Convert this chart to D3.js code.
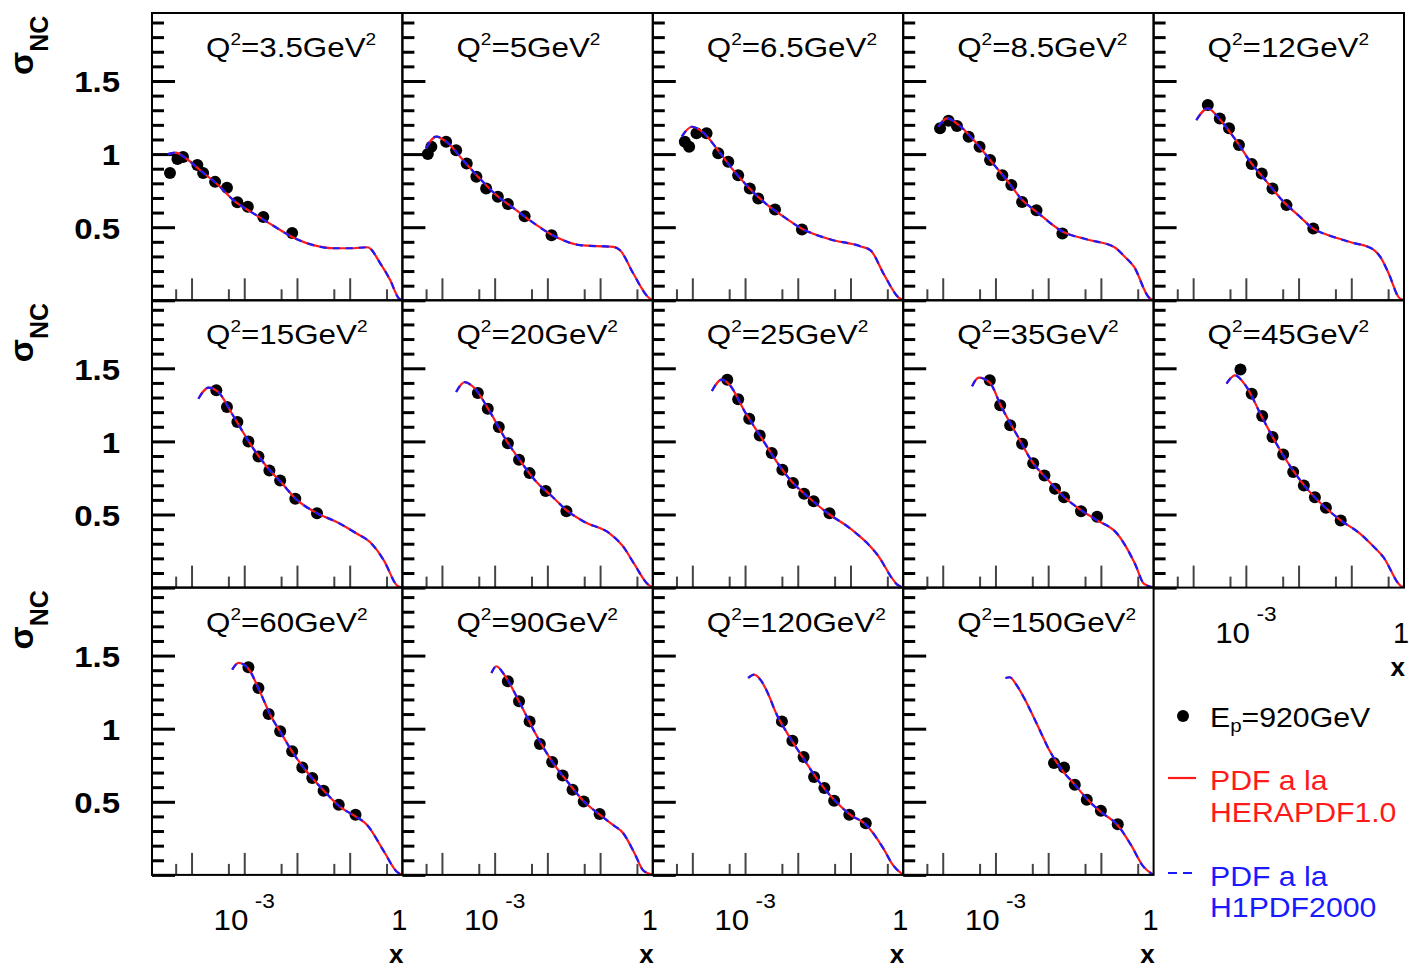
<!DOCTYPE html>
<html><head><meta charset="utf-8">
<script src="https://cdn.jsdelivr.net/npm/d3@7"></script>
<style>
body{margin:0;background:#fff}
svg{display:block}
text{font-family:"Liberation Sans",Arial,Helvetica,sans-serif}
</style>
</head><body>
<svg id="c" width="1409" height="969"></svg>
<script>
// ---------------- data ----------------
const q2Values = ["3.5","5","6.5","8.5","12","15","20","25","35","45","60","90","120","150"];

const dataX = [
  [3.9e-5,5.4e-5,6.9e-5,1.29e-4,1.66e-4,2.8e-4,4.7e-4,7.4e-4,1.17e-3,2.3e-3,8.1e-3],
  [5.4e-5,6.3e-5,1.2e-4,1.86e-4,2.95e-4,4.5e-4,6.9e-4,1.15e-3,1.78e-3,3.7e-3,1.2e-2],
  [7.2e-5,8.7e-5,1.2e-4,1.86e-4,3.1e-4,4.8e-4,7.4e-4,1.23e-3,1.78e-3,3.7e-3,1.2e-2],
  [8.9e-5,1.29e-4,1.86e-4,3.1e-4,5.0e-4,7.9e-4,1.35e-3,2.0e-3,3.2e-3,6.0e-3,1.86e-2],
  [1.9e-4,3.2e-4,4.8e-4,7.4e-4,1.29e-3,2.0e-3,3.2e-3,5.9e-3,1.9e-2],
  [2.95e-4,4.7e-4,7.4e-4,1.2e-3,1.86e-3,3.0e-3,4.8e-3,9.3e-3,2.4e-2],
  [4.8e-4,7.4e-4,1.2e-3,1.78e-3,2.9e-3,4.6e-3,9.3e-3,2.3e-2],
  [4.6e-4,7.4e-4,1.2e-3,1.9e-3,3.2e-3,5.1e-3,8.1e-3,1.32e-2,2.0e-2,4.0e-2],
  [7.8e-4,1.23e-3,1.9e-3,3.2e-3,5.2e-3,8.5e-3,1.35e-2,2.0e-2,4.2e-2,8.5e-2],
  [7.9e-4,1.29e-3,2.04e-3,3.2e-3,5.1e-3,7.9e-3,1.26e-2,2.04e-2,3.3e-2,6.3e-2],
  [1.2e-3,1.86e-3,2.9e-3,4.8e-3,8.1e-3,1.26e-2,1.95e-2,3.2e-2,6.2e-2,0.129],
  [1.78e-3,2.9e-3,4.6e-3,7.2e-3,1.23e-2,1.95e-2,3.0e-2,4.9e-2,9.8e-2],
  [5.0e-3,7.9e-3,1.29e-2,2.04e-2,3.2e-2,4.9e-2,9.5e-2,0.195],
  [1.29e-2,2.0e-2,3.2e-2,5.4e-2,0.1,0.209]
];
const dataY = [
  [0.87,0.966,0.98,0.925,0.87,0.81,0.77,0.67,0.64,0.57,0.46],
  [1.0,1.05,1.084,1.027,0.936,0.845,0.765,0.708,0.658,0.575,0.445],
  [1.084,1.05,1.142,1.142,1.005,0.947,0.856,0.765,0.697,0.621,0.484],
  [1.176,1.228,1.192,1.119,1.05,0.959,0.856,0.788,0.673,0.616,0.457],
  [1.336,1.244,1.176,1.062,0.932,0.868,0.765,0.651,0.491],
  [1.349,1.235,1.132,1.0,0.897,0.801,0.733,0.607,0.509],
  [1.331,1.224,1.098,0.988,0.875,0.783,0.66,0.523],
  [1.422,1.288,1.155,1.041,0.92,0.806,0.715,0.642,0.591,0.509],
  [1.418,1.247,1.11,0.984,0.851,0.767,0.676,0.618,0.523,0.484],
  [1.491,1.326,1.173,1.03,0.911,0.79,0.699,0.618,0.546,0.459],
  [1.42,1.279,1.1,0.982,0.845,0.735,0.662,0.575,0.479,0.411],
  [1.324,1.187,1.05,0.895,0.772,0.68,0.582,0.502,0.416],
  [1.05,0.918,0.806,0.669,0.594,0.507,0.411,0.354],
  [0.765,0.735,0.616,0.514,0.438,0.347]
];

const curveX = [
  [3.55e-5,5.0e-5,7.9e-5,1.45e-4,3.16e-4,6.2e-4,1.41e-3,2.75e-3,8.5e-3,2.04e-2,4.9e-2,0.102,0.219,0.38,0.589,0.851,1],
  [5.0e-5,7.8e-5,1.26e-4,2.5e-4,5.0e-4,1.07e-3,2.5e-3,4.6e-3,1.26e-2,4.2e-2,0.178,0.24,0.427,0.81,1],
  [6.3e-5,9.8e-5,1.58e-4,3.16e-4,6.3e-4,1.26e-3,2.5e-3,5.0e-3,1.2e-2,4.2e-2,0.153,0.24,0.427,0.81,1],
  [8.3e-5,1.2e-4,2.0e-4,4.0e-4,7.9e-4,1.58e-3,3.16e-3,6.3e-3,1.86e-2,5.5e-2,0.178,0.28,0.427,0.81,1],
  [1.15e-4,1.9e-4,3.16e-4,6.3e-4,1.26e-3,2.5e-3,5.0e-3,1.0e-2,1.9e-2,3.7e-2,6.6e-2,0.11,0.195,0.263,0.355,0.513,0.794,1],
  [1.35e-4,2.1e-4,3.16e-4,6.3e-4,1.26e-3,2.5e-3,5.0e-3,1.0e-2,2.4e-2,5.8e-2,0.138,0.245,0.447,0.794,1],
  [1.86e-4,2.7e-4,4.0e-4,7.9e-4,1.58e-3,3.16e-3,6.3e-3,1.26e-2,2.3e-2,5.0e-2,0.155,0.275,0.447,0.794,1],
  [2.35e-4,3.6e-4,5.0e-4,1.0e-3,2.0e-3,4.0e-3,7.9e-3,1.58e-2,4.0e-2,7.9e-2,0.132,0.2,0.316,0.813,1],
  [3.6e-4,4.8e-4,7.9e-4,1.26e-3,2.5e-3,5.0e-3,1.0e-2,2.0e-2,4.2e-2,8.5e-2,0.204,0.316,0.447,0.66,1],
  [4.3e-4,6.2e-4,1.0e-3,2.0e-3,4.0e-3,7.9e-3,1.58e-2,3.16e-2,6.3e-2,0.148,0.25,0.407,0.85,1],
  [5.9e-4,7.8e-4,1.2e-3,2.0e-3,3.16e-3,5.0e-3,7.9e-3,1.58e-2,3.16e-2,6.3e-2,0.129,0.214,0.447,0.794,1],
  [8.7e-4,1.07e-3,1.58e-3,3.16e-3,6.3e-3,1.26e-2,2.5e-2,5.0e-2,0.1,0.178,0.275,0.447,0.66,1],
  [1.15e-3,1.48e-3,2.0e-3,2.6e-3,4.0e-3,6.3e-3,1.26e-2,2.5e-2,5.0e-2,0.1,0.195,0.417,0.63,1],
  [1.55e-3,1.86e-3,2.5e-3,3.5e-3,6.2e-3,1.1e-2,2.0e-2,3.16e-2,5.4e-2,0.1,0.209,0.372,0.63,1]
];
const curveY = [
  [1.0,1.01,0.97,0.89,0.79,0.685,0.6,0.535,0.43,0.377,0.356,0.356,0.363,0.253,0.137,0.014,0],
  [1.04,1.12,1.08,0.96,0.84,0.72,0.62,0.548,0.445,0.377,0.365,0.342,0.183,0.023,0],
  [1.12,1.187,1.15,1.02,0.88,0.76,0.66,0.58,0.49,0.416,0.37,0.342,0.18,0.02,0],
  [1.187,1.244,1.2,1.09,0.96,0.83,0.69,0.6,0.47,0.416,0.365,0.3,0.228,0.02,0],
  [1.233,1.313,1.24,1.1,0.94,0.81,0.68,0.58,0.49,0.445,0.416,0.392,0.37,0.347,0.297,0.183,0.02,0],
  [1.292,1.368,1.34,1.17,0.99,0.84,0.72,0.6,0.509,0.447,0.368,0.31,0.185,0.014,0],
  [1.338,1.406,1.37,1.21,1.02,0.86,0.72,0.62,0.53,0.45,0.368,0.28,0.16,0.025,0],
  [1.345,1.422,1.39,1.2,1.03,0.86,0.72,0.62,0.5,0.43,0.368,0.31,0.23,0.014,0],
  [1.377,1.436,1.40,1.245,1.05,0.86,0.735,0.62,0.53,0.46,0.368,0.265,0.16,0.025,0],
  [1.395,1.452,1.38,1.17,0.97,0.8,0.66,0.55,0.46,0.368,0.29,0.208,0.014,0],
  [1.404,1.45,1.41,1.25,1.09,0.97,0.85,0.7,0.58,0.47,0.4,0.342,0.16,0.02,0],
  [1.381,1.427,1.36,1.16,0.95,0.77,0.63,0.5,0.41,0.34,0.285,0.15,0.03,0],
  [1.347,1.37,1.33,1.256,1.096,0.97,0.8,0.64,0.51,0.41,0.345,0.183,0.07,0],
  [1.347,1.352,1.3,1.21,1.027,0.84,0.7,0.62,0.52,0.43,0.34,0.205,0.06,0]
];

const yMajorTicks = [0, 0.5, 1, 1.5];
const yMinorTicks = [0.1,0.2,0.3,0.4,0.6,0.7,0.8,0.9,1.1,1.2,1.3,1.4,1.6,1.7,1.8,1.9];
const yTickLabels = ["0.5","1","1.5"];
const yLabelTicks = [0.5, 1, 1.5];
const xMajorTicks = [1e-4, 1e-3, 1e-2, 1e-1];
const xMinorTicks = [5e-5, 5e-4, 5e-3, 5e-2, 5e-1];
const legendLabels = ["E", "p", "=920GeV", "PDF a la", "HERAPDF1.0", "PDF a la", "H1PDF2000"];

// ---------------- layout ----------------
const svg = d3.select("#c");
const L0 = 152, T0 = 13, CW = 250.4, CH = 287.3;
const xDomain = [Math.pow(10, -4.75), 1];
const yDomain = [0, 1.965];
const RED = "#ff1a1a", BLUE = "#1a1aff";

const defs = svg.append("defs");

q2Values.forEach((q, i) => {
  const r = Math.floor(i / 5), c = i % 5;
  const x0 = L0 + c * CW, y0 = T0 + r * CH;
  const xs = d3.scaleLog().domain(xDomain).range([x0, x0 + CW]);
  const ys = d3.scaleLinear().domain(yDomain).range([y0 + CH, y0]);
  const g = svg.append("g");

  defs.append("clipPath").attr("id", "clip" + i)
    .append("rect").attr("x", x0).attr("y", y0).attr("width", CW).attr("height", CH);

  // y ticks (inside, left side)
  const yMin = g.append("g").attr("transform", `translate(${x0},0)`)
    .call(d3.axisRight(ys).tickValues(yMinorTicks).tickSize(12).tickFormat(""));
  const yMaj = g.append("g").attr("transform", `translate(${x0},0)`)
    .call(d3.axisRight(ys).tickValues(yMajorTicks).tickSize(23).tickFormat(""));
  [yMin, yMaj].forEach(a => {
    a.select(".domain").remove();
    a.selectAll("line").attr("stroke", "#000").attr("stroke-width", 3);
  });

  // x ticks (inside, bottom)
  const xMin = g.append("g").attr("transform", `translate(0,${y0 + CH})`)
    .call(d3.axisTop(xs).tickValues(xMinorTicks).tickSize(11).tickFormat(""));
  const xMaj = g.append("g").attr("transform", `translate(0,${y0 + CH})`)
    .call(d3.axisTop(xs).tickValues(xMajorTicks).tickSize(22).tickFormat(""));
  [xMin, xMaj].forEach(a => {
    a.select(".domain").remove();
    a.selectAll("line").attr("stroke", "#444").attr("stroke-width", 2);
  });

  // data points
  const pts = dataX[i].map((x, k) => [x, dataY[i][k]]);
  g.append("g").selectAll("circle").data(pts).join("circle")
    .attr("cx", d => xs(d[0])).attr("cy", d => ys(d[1])).attr("r", 6).attr("fill", "#000");

  // curves
  const cpts = curveX[i].map((x, k) => [x, curveY[i][k]]);
  const line = d3.line().x(d => xs(d[0])).y(d => ys(d[1])).curve(d3.curveMonotoneX);
  const cg = g.append("g").attr("clip-path", `url(#clip${i})`);
  cg.append("path").attr("d", line(cpts)).attr("fill", "none").attr("stroke", RED).attr("stroke-width", 2.2);
  cg.append("path").attr("d", line(cpts)).attr("fill", "none").attr("stroke", BLUE).attr("stroke-width", 2.2)
    .attr("stroke-dasharray", "7,6");

  // frame
  g.append("rect").attr("x", x0).attr("y", y0).attr("width", CW).attr("height", CH)
    .attr("fill", "none").attr("stroke", "#000").attr("stroke-width", 2);

  // Q2 label
  const t = g.append("text").attr("transform", `translate(${x0 + 54},${y0 + 44}) scale(1.12,1)`)
    .attr("font-size", 28).attr("fill", "#000");
  t.append("tspan").text("Q");
  t.append("tspan").attr("dy", -12).attr("font-size", 17).text("2");
  t.append("tspan").attr("dy", 12).text("=" + q + "GeV");
  t.append("tspan").attr("dy", -12).attr("font-size", 17).text("2");

  // y tick labels, first column
  if (c === 0) {
    const ya = g.append("g").attr("transform", `translate(${x0},0)`)
      .call(d3.axisLeft(ys).tickValues(yLabelTicks).tickSize(0).tickPadding(29)
        .tickFormat((d, k) => yTickLabels[k]));
    ya.select(".domain").remove();
    ya.selectAll("text").attr("font-size", 30).attr("font-weight", "bold")
      .attr("font-family", "Liberation Sans, Arial, sans-serif").attr("fill", "#000")
      .attr("dy", "0.36em").attr("transform", "scale(1.1,1)");

    const s = svg.append("text").attr("transform", `translate(33,${y0 + 62}) rotate(-90)`)
      .attr("font-size", 34).attr("font-weight", "bold").attr("fill", "#000");
    s.append("tspan").text("σ");
    s.append("tspan").attr("dy", 15).attr("font-size", 25).text("NC");
  }

  // x axis labels below bottom panels
  if (r === 2 || (r === 1 && c === 4)) {
    const yb = y0 + CH;
    const lt = svg.append("text").attr("transform", `translate(${xs(1e-3)},${yb + 55}) scale(1.08,1)`)
      .attr("text-anchor", "middle").attr("font-size", 29).attr("fill", "#000");
    lt.append("tspan").text("10");
    lt.append("tspan").attr("dx", 6).attr("dy", -22).attr("font-size", 21).text("-3");
    svg.append("text").attr("x", xs(1) - 3).attr("y", yb + 55)
      .attr("text-anchor", "middle").attr("font-size", 29).attr("fill", "#000").text("1");
    svg.append("text").attr("x", xs(1) + 1).attr("y", yb + 88)
      .attr("text-anchor", "end").attr("font-size", 26).attr("font-weight", "bold").attr("fill", "#000").text("x");
  }
});

// ---------------- legend ----------------
const lg = svg.append("g");
lg.append("circle").attr("cx", 1183).attr("cy", 716).attr("r", 6).attr("fill", "#000");
const e = lg.append("text").attr("transform", "translate(1210,727) scale(1.08,1)").attr("font-size", 28).attr("fill", "#000");
e.append("tspan").text(legendLabels[0]);
e.append("tspan").attr("dy", 5).attr("font-size", 19).text(legendLabels[1]);
e.append("tspan").attr("dy", -5).text(legendLabels[2]);

lg.append("line").attr("x1", 1168).attr("x2", 1196).attr("y1", 778).attr("y2", 778)
  .attr("stroke", RED).attr("stroke-width", 2.2);
lg.append("text").attr("transform", "translate(1210,790) scale(1.08,1)").attr("font-size", 28).attr("fill", RED).text(legendLabels[3]);
lg.append("text").attr("transform", "translate(1210,822) scale(1.08,1)").attr("font-size", 28).attr("fill", RED).text(legendLabels[4]);

lg.append("line").attr("x1", 1168).attr("x2", 1196).attr("y1", 873).attr("y2", 873)
  .attr("stroke", BLUE).attr("stroke-width", 2.2).attr("stroke-dasharray", "9,6");
lg.append("text").attr("transform", "translate(1210,886) scale(1.08,1)").attr("font-size", 28).attr("fill", BLUE).text(legendLabels[5]);
lg.append("text").attr("transform", "translate(1210,917) scale(1.08,1)").attr("font-size", 28).attr("fill", BLUE).text(legendLabels[6]);
</script>
</body></html>
